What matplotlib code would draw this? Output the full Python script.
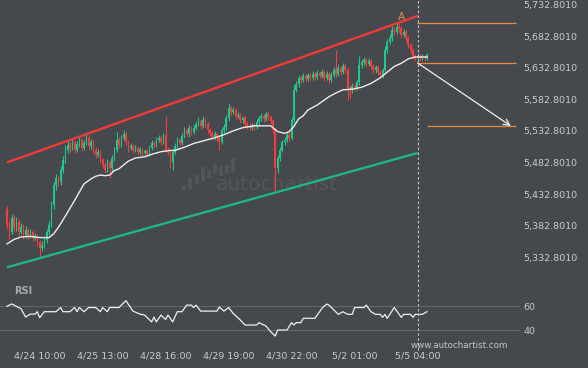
import matplotlib
matplotlib.use("Agg")
import matplotlib.pyplot as plt
import numpy as np
from matplotlib.transforms import blended_transform_factory
from matplotlib.patches import Rectangle
from matplotlib.lines import Line2D

# ---------------- data ----------------
open0 = 5410
close = [5384, 5373, 5395, 5379, 5389, 5373, 5381, 5368, 5376, 5367,
         5373, 5363, 5367, 5357, 5348, 5352, 5360, 5373, 5384, 5416,
         5447, 5458, 5452, 5471, 5487, 5503, 5511, 5506, 5515, 5503,
         5512, 5519, 5506, 5514, 5522, 5509, 5515, 5503, 5495, 5500,
         5487, 5479, 5471, 5484, 5474, 5490, 5503, 5519, 5511, 5522,
         5528, 5515, 5506, 5509, 5503, 5506, 5500, 5503, 5498, 5501,
         5496, 5506, 5514, 5511, 5519, 5522, 5515, 5526, 5503, 5500,
         5484, 5500, 5509, 5519, 5514, 5525, 5534, 5528, 5538, 5531,
         5538, 5544, 5549, 5541, 5550, 5544, 5534, 5530, 5523, 5528,
         5522, 5515, 5534, 5539, 5553, 5569, 5563, 5566, 5557, 5558,
         5550, 5553, 5544, 5541, 5538, 5542, 5539, 5547, 5553, 5557,
         5552, 5560, 5555, 5549, 5534, 5474, 5490, 5503, 5515, 5519,
         5526, 5522, 5550, 5598, 5607, 5617, 5614, 5620, 5615, 5621,
         5617, 5623, 5618, 5625, 5620, 5626, 5617, 5623, 5614, 5621,
         5629, 5623, 5633, 5626, 5636, 5629, 5601, 5598, 5604, 5601,
         5610, 5637, 5642, 5645, 5639, 5644, 5636, 5629, 5634, 5626,
         5621, 5629, 5661, 5674, 5680, 5693, 5690, 5697, 5696, 5685,
         5690, 5680, 5669, 5661, 5652, 5648, 5652, 5648, 5650, 5648,
         5653]
high = [5414, 5390, 5402, 5399, 5396, 5393, 5387, 5385, 5382, 5379,
        5377, 5376, 5372, 5370, 5360, 5358, 5364, 5378, 5390, 5422,
        5452, 5465, 5462, 5478, 5493, 5510, 5518, 5515, 5520, 5518,
        5517, 5524, 5522, 5519, 5531, 5526, 5520, 5518, 5507, 5505,
        5503, 5490, 5483, 5488, 5487, 5494, 5508, 5531, 5523, 5527,
        5534, 5531, 5518, 5514, 5512, 5510, 5509, 5507, 5506, 5505,
        5504, 5510, 5518, 5517, 5523, 5527, 5525, 5530, 5556, 5508,
        5503, 5504, 5513, 5524, 5522, 5529, 5539, 5537, 5542, 5541,
        5542, 5548, 5555, 5552, 5557, 5553, 5547, 5538, 5533, 5532,
        5531, 5525, 5538, 5544, 5558, 5577, 5573, 5571, 5569, 5563,
        5561, 5557, 5556, 5548, 5545, 5546, 5545, 5551, 5557, 5562,
        5560, 5564, 5563, 5558, 5552, 5538, 5494, 5507, 5519, 5524,
        5531, 5533, 5555, 5605, 5612, 5622, 5620, 5624, 5623, 5625,
        5624, 5627, 5626, 5629, 5628, 5631, 5629, 5627, 5626, 5626,
        5634, 5661, 5638, 5636, 5641, 5639, 5632, 5606, 5608, 5608,
        5614, 5652, 5647, 5650, 5648, 5649, 5647, 5639, 5638, 5637,
        5629, 5633, 5667, 5679, 5686, 5699, 5698, 5703, 5704, 5699,
        5694, 5693, 5683, 5672, 5664, 5655, 5656, 5655, 5654, 5653,
        5657]
low = [5378, 5362, 5369, 5374, 5375, 5366, 5370, 5362, 5364, 5360,
       5363, 5358, 5360, 5350, 5333, 5342, 5347, 5356, 5368, 5380,
       5410, 5440, 5445, 5448, 5466, 5482, 5498, 5500, 5502, 5498,
       5499, 5508, 5501, 5502, 5510, 5504, 5505, 5498, 5490, 5491,
       5482, 5474, 5466, 5468, 5458, 5470, 5486, 5499, 5506, 5507,
       5518, 5511, 5500, 5502, 5498, 5499, 5495, 5496, 5493, 5494,
       5491, 5493, 5503, 5506, 5508, 5515, 5511, 5512, 5499, 5494,
       5474, 5471, 5496, 5505, 5509, 5510, 5521, 5523, 5524, 5527,
       5528, 5534, 5540, 5536, 5537, 5539, 5530, 5525, 5518, 5519,
       5517, 5503, 5512, 5530, 5535, 5549, 5558, 5559, 5552, 5553,
       5545, 5546, 5539, 5536, 5533, 5534, 5534, 5536, 5543, 5549,
       5547, 5548, 5550, 5544, 5530, 5436, 5466, 5486, 5499, 5510,
       5515, 5517, 5518, 5546, 5594, 5603, 5609, 5610, 5611, 5612,
       5613, 5614, 5614, 5615, 5616, 5617, 5612, 5613, 5609, 5611,
       5618, 5619, 5620, 5621, 5623, 5624, 5582, 5585, 5593, 5596,
       5597, 5606, 5633, 5638, 5634, 5635, 5631, 5624, 5625, 5621,
       5616, 5617, 5625, 5657, 5670, 5676, 5685, 5686, 5690, 5680,
       5681, 5676, 5664, 5656, 5647, 5644, 5645, 5644, 5645, 5644,
       5645]

ma_idx = [0, 3, 6, 10, 14, 18, 20, 22, 25, 29, 33, 36, 38, 40, 42, 44, 46, 48,
          52, 55, 59, 63, 66, 70, 72, 76, 80, 85, 89, 93, 97, 101, 106, 110,
          113, 116, 119, 121, 123, 125, 127, 129, 133, 138, 141, 144, 148, 152,
          156, 160, 163, 166, 169, 172, 175, 178, 180]
ma_val = [5354, 5361, 5365, 5366, 5364, 5364, 5370, 5380, 5398, 5423, 5449,
          5457, 5461, 5463, 5462, 5463, 5470, 5473, 5485, 5490, 5492, 5497,
          5500, 5502, 5502, 5507, 5513, 5518, 5522, 5527, 5533, 5538, 5541,
          5541, 5541, 5532, 5529, 5532, 5540, 5552, 5557, 5566, 5574, 5587,
          5593, 5598, 5599, 5602, 5608, 5617, 5626, 5635, 5640, 5647, 5650,
          5650, 5650]

rsi_idx = [0, 2, 4, 6, 8, 10, 12, 13, 14, 16, 21, 23, 24, 27, 29, 30, 31, 33,
           35, 38, 40, 41, 43, 44, 48, 49, 51, 52, 54, 57, 59, 62, 63, 64, 66,
           68, 69, 71, 73, 75, 77, 79, 80, 81, 83, 90, 91, 93, 95, 97, 100,
           102, 107, 108, 111, 113, 115, 116, 120, 122, 123, 124, 126, 127,
           132, 135, 137, 138, 142, 144, 146, 148, 149, 153, 154, 156, 158,
           160, 161, 162, 163, 166, 169, 170, 173, 174, 175, 178, 180]
rsi_val = [60, 62, 60, 58, 51, 53.5, 53.5, 55.5, 50.5, 55.5, 55.5, 59, 55.5,
           55.5, 59, 55.5, 59, 55.5, 59, 59, 55.5, 59, 55.5, 59, 59, 61, 64.7,
           61.7, 56, 53.5, 52.7, 47, 51, 47, 52.7, 49, 52.7, 47, 55.5, 55.5,
           61, 61, 59, 61, 56, 56, 59.4, 56, 59, 54, 48.6, 44.4, 44.4, 46.4,
           43.6, 38.9, 35.2, 40.2, 40.2, 46.4, 44.4, 46.4, 46.4, 50, 50, 58.3,
           61.9, 61, 53.3, 55.5, 53.3, 53.3, 59, 59, 61, 55.5, 53.3, 53.3,
           50.8, 53.3, 50, 59, 50.8, 53.3, 53.3, 50.8, 53.3, 53.3, 55.5]

channel_idx = [0, 176]
channel_upper = [5483, 5715]
channel_lower = [5317, 5498]

pattern_high = 5703.8       # point A
pattern_idx = 169
level_top = 5703.8
level_mid = 5640.5
forecast_level = 5540.7
forecast_start_idx = 176
forecast_end_idx = 216
last_idx = 180

price_ticks = [5332.8010, 5382.8010, 5432.8010, 5482.8010, 5532.8010,
               5582.8010, 5632.8010, 5682.8010, 5732.8010]
rsi_ticks = [40, 60]
time_idx = [14, 41, 68, 95, 122, 149, 176]
time_labels = ["4/24 10:00", "4/25 13:00", "4/28 16:00", "4/29 19:00",
               "4/30 22:00", "5/2 01:00", "5/5 04:00"]

# ---------------- style ----------------
BG = "#45484d"
GREEN = "#20c98b"
RED = "#f53d3d"
CH_RED = "#f03a3a"
CH_GREEN = "#1fb684"
ORANGE = "#f08a3e"
TXT = "#c9cbce"
WM = "#52555a"
W, H = 588, 368

plt.rcParams["font.family"] = ["DejaVu Sans"]
fig = plt.figure(figsize=(W / 100, H / 100), dpi=100)
fig.patch.set_facecolor(BG)


def px_rect(x0, y0, x1, y1):
    return [x0 / W, 1 - y1 / H, (x1 - x0) / W, (y1 - y0) / H]


ax = fig.add_axes(px_rect(0, 0, 520, 282))
rx = fig.add_axes(px_rect(0, 284, 520, 345), sharex=ax)
for a in (ax, rx):
    a.set_facecolor("none")
    for s in a.spines.values():
        s.set_visible(False)

ax.set_xlim(-3, 219.9)
ax.set_ylim(5293.7, 5740.2)
rx.set_ylim(27.75, 78.6)

# watermark (behind everything)
logo_x = [184, 190, 197, 203, 209, 215, 221, 227, 233]
logo_top = [185, 178, 175, 167, 170, 164, 167, 165, 158]
logo_bot = [190, 190, 184, 181, 178, 173, 176, 173, 172]
for lx, lt, lb in zip(logo_x, logo_top, logo_bot):
    fig.add_artist(Rectangle(((lx - 1.8) / W, 1 - lb / H), 3.6 / W,
                             (lb - lt) / H, transform=fig.transFigure,
                             facecolor=WM, edgecolor="none", zorder=-5))
fig.text(216 / W, 1 - 184 / H, "autochartist", fontsize=14.5,
         color=WM, va="center", ha="left", zorder=-5)

# candles
close_a = np.array(close, float)
idx = np.arange(len(close_a))
opens = np.concatenate([[open0], close_a[:-1]])
up = close_a >= opens
cols = np.where(up, GREEN, RED)
ax.vlines(idx, low, high, colors=cols, lw=0.8, zorder=3)
body = np.maximum(np.abs(close_a - opens), 1.2)
ax.bar(idx, body, bottom=np.minimum(close_a, opens), width=0.68,
       color=cols, linewidth=0, zorder=3)

# moving average
ax.plot(ma_idx, ma_val, color="#ececec", lw=1.0, zorder=4)

# channel
ax.plot(channel_idx, channel_upper, color=CH_RED, lw=1.7, zorder=5,
        solid_capstyle="butt")
ax.plot(channel_idx, channel_lower, color=CH_GREEN, lw=1.7, zorder=5,
        solid_capstyle="butt")

# levels
xr = ax.get_xlim()[1] - 1.7
ax.hlines([level_top, level_mid], forecast_start_idx - 0.3, xr,
          colors=ORANGE, lw=0.9, zorder=5)
ax.hlines([forecast_level], last_idx, xr, colors=ORANGE, lw=0.9, zorder=5)
ax.annotate("", xy=(forecast_end_idx, forecast_level),
            xytext=(forecast_start_idx, level_mid),
            arrowprops=dict(arrowstyle="->", color="#f0f0f0", lw=0.9,
                            mutation_scale=11, shrinkA=0, shrinkB=0),
            zorder=6)
ax.text(pattern_idx, pattern_high + 10, "A", color=ORANGE, fontsize=7.5,
        ha="center", va="center", zorder=6)

# vertical dashed line at the last pattern bar
vt = blended_transform_factory(ax.transData, fig.transFigure)
fig.add_artist(Line2D([time_idx[-1], time_idx[-1]], [1 - 350 / H, 1.0],
                      transform=vt, color="#c8c8c8", lw=0.8,
                      dashes=(2.2, 2.2), zorder=7))

# price axis
ax.yaxis.tick_right()
ax.set_yticks(price_ticks)
ax.set_yticklabels([f"{v:,.4f}" for v in price_ticks])
ax.tick_params(axis="y", length=0, pad=2.5, labelsize=6.8, labelcolor=TXT)
ax.tick_params(axis="x", bottom=False, labelbottom=False)

# RSI
for lv in rsi_ticks:
    rx.axhline(lv, color="#62656a", lw=0.8, zorder=1)
rx.plot(rsi_idx, rsi_val, color="#f0f0f0", lw=0.9, zorder=3)
rx.yaxis.tick_right()
rx.set_yticks(rsi_ticks)
rx.set_yticklabels([str(v) for v in rsi_ticks])
rx.tick_params(axis="y", length=0, pad=2.5, labelsize=6.8, labelcolor=TXT)
rx.set_xticks(time_idx)
rx.set_xticklabels(time_labels)
rx.tick_params(axis="x", length=0, pad=4.5, labelsize=6.8, labelcolor=TXT)

fig.text(14 / W, 1 - 291 / H, "RSI", fontsize=7, fontweight="bold",
         color="#a8aaad", va="center", ha="left")
fig.text(411 / W, 1 - 345 / H, "www.autochartist.com", fontsize=6.3,
         color="#c4c6c9", va="center", ha="left")

fig.savefig("out.png", dpi=100, facecolor=BG)
